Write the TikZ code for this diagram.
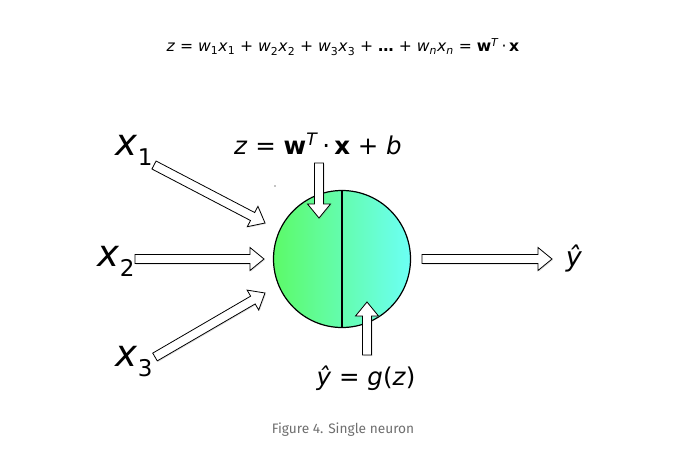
\documentclass[tikz,border=0pt]{standalone}
\usepackage{fontspec}
\setmainfont{DejaVu Sans}
\newfontfamily\capfont{Fira Sans}
\usetikzlibrary{calc,shadows}

\newcommand{\mi}[1]{\textit{#1}}
\newcommand{\bigsize}{\fontsize{37}{44}\selectfont}
\newcommand{\midsize}{\fontsize{24.5}{28}\selectfont}
\newcommand{\bigsub}[1]{\raisebox{-10pt}{\fontsize{23}{26}\selectfont #1}}

\definecolor{neurL}{RGB}{92,250,104}
\definecolor{neurR}{RGB}{108,255,245}
\definecolor{capgray}{RGB}{110,110,110}

\tikzset{
  fat/.style={draw=black, fill=white, line width=0.8pt, line join=miter,
    drop shadow={opacity=0.25, shadow xshift=1pt, shadow yshift=-1pt},
    to path={let \p1=($(\tikztotarget)!14pt!(\tikztostart)$), \p2=(\tikztostart), \p3=(\tikztotarget) in
      ($(\p2)!4.5pt!90:(\p3)$) -- ($(\p1)!4.5pt!-90:(\p2)$) -- ($(\p1)!11.5pt!-90:(\p2)$) -- (\p3)
      -- ($(\p1)!11.5pt!90:(\p2)$) -- ($(\p1)!4.5pt!90:(\p2)$) -- ($(\p2)!4.5pt!-90:(\p3)$) -- cycle}},
}

\begin{document}
\begin{tikzpicture}[x=1pt,y=-1pt]
  \useasboundingbox (0,0) rectangle (676,455);

  % formula and caption
  \node (formula) at (343,47) {\fontsize{15.6}{18}\selectfont
    \mi{z} = \mi{w}\textsubscript{1}\mi{x}\textsubscript{1} + \mi{w}\textsubscript{2}\mi{x}\textsubscript{2}
    + \mi{w}\textsubscript{3}\mi{x}\textsubscript{3} + \textbf{\dots} + \mi{w}\textsubscript{\mi{n}}\mi{x}\textsubscript{\mi{n}}
    = \textbf{w}\textsuperscript{\mi{T}}\,·\,\textbf{x}};
  \node[text=capgray] (caption) at (343,430) {\capfont\fontsize{13.7}{16}\selectfont Figure 4. Single neuron};

  % the neuron
  \node[circle, draw, line width=1.2pt, minimum size=137pt, left color=neurL, right color=neurR] (neuron) at (342,259) {};
  \draw[line width=1.2pt] (neuron.north) -- (neuron.south);
  \fill (275,186) circle (0.7pt);

  % labels
  \node (x1) at (134,150) {\bigsize\mi{x}\bigsub{1}};
  \node (x2) at (116,261) {\bigsize\mi{x}\bigsub{2}};
  \node (x3) at (134,362) {\bigsize\mi{x}\bigsub{3}};
  \node (zlab) at (318,144) {\midsize\mi{z} = \textbf{w}\textsuperscript{\mi{T}}\,·\,\textbf{x} + \mi{b}};
  \node (glab) at (366,378) {\midsize\mi{ŷ} = \mi{g}(\mi{z})};
  \node (yhat) at (574,259) {\fontsize{27}{31}\selectfont\mi{ŷ}};

  % arrow ends
  \coordinate (a1s) at (154,165);  \coordinate (a1t) at (265,223);
  \coordinate (a2s) at (135,259);  \coordinate (a2t) at (264,259);
  \coordinate (a3s) at (155,357);  \coordinate (a3t) at (265,293);
  \coordinate (zs)  at (319,163);  \coordinate (zt)  at (319,218);
  \coordinate (gs)  at (367,355);  \coordinate (gt)  at (367,302);
  \coordinate (os)  at (422,259);  \coordinate (ot)  at (552,259);

  \path[fat]
    (a1s) to (a1t)
    (a2s) to (a2t)
    (a3s) to (a3t)
    (zs) to (zt)
    (gs) to (gt)
    (os) to (ot);
\end{tikzpicture}
\end{document}
